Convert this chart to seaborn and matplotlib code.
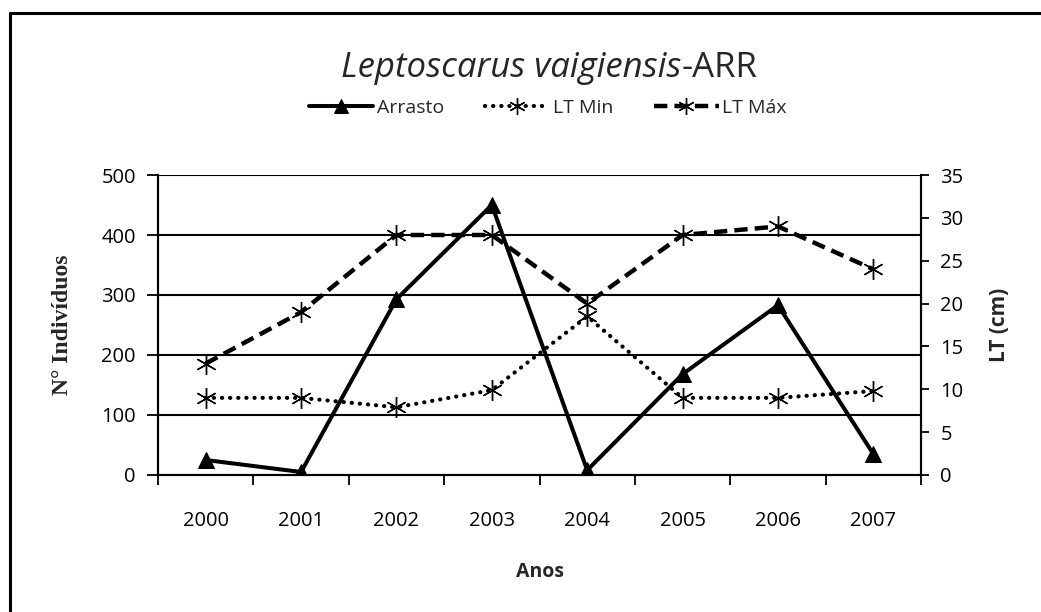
import numpy as np
import pandas as pd
import matplotlib
matplotlib.use("Agg")
import matplotlib.pyplot as plt
from matplotlib.lines import Line2D
import seaborn as sns

# values
anos    = ["2000", "2001", "2002", "2003", "2004", "2005", "2006", "2007"]
arrasto = [25, 5, 293, 450, 8, 168, 283, 35]
lt_min  = [9, 9, 7.9, 9.9, 18.5, 9, 9, 9.8]
lt_max  = [13, 19, 28, 28, 20, 28, 29, 24]

sns.set_theme(style="white")
plt.rcParams["font.family"] = ["Open Sans", "DejaVu Sans"]

df = pd.DataFrame({"Anos": anos, "Arrasto": arrasto, "LT Min": lt_min, "LT Max": lt_max})

W, H = 1041, 612
fig = plt.figure(figsize=(W / 100, H / 100), dpi=100)
fig.patch.set_facecolor("white")
ax = fig.add_axes([158 / W, 1 - 475 / H, (921 - 158) / W, 300 / H])
ax2 = ax.twinx()

star = (6, 2, 0)
sns.lineplot(data=df, x="Anos", y="Arrasto", ax=ax, color="black", linewidth=2.9,
             marker="^", markersize=12, markeredgecolor="black", sort=False,
             label="Arrasto", legend=False, zorder=5)
sns.lineplot(data=df, x="Anos", y="LT Min", ax=ax2, color="black", linewidth=3,
             linestyle=(0, (0.05, 1.9)), dash_capstyle="round", marker=star, markersize=15,
             markeredgewidth=1.0, markeredgecolor="black", sort=False,
             label="LT Min", legend=False)
sns.lineplot(data=df, x="Anos", y="LT Max", ax=ax2, color="black", linewidth=3.2,
             linestyle=(0, (3.0, 1.6)), marker=star, markersize=15,
             markeredgewidth=1.0, markeredgecolor="black", sort=False,
             label="LT Máx", legend=False)

ax.set_xlim(-0.5, 7.5)
ax.set_ylim(0, 500)
ax2.set_ylim(0, 35)
ax.set_yticks(np.arange(0, 501, 100))
ax2.set_yticks(np.arange(0, 36, 5))

# gridlines on the left axis
for v in np.arange(100, 501, 100):
    ax.axhline(v, color="black", linewidth=1.5, zorder=0)

# x ticks between categories, labels at the centres
ax.set_xticks(np.arange(-0.5, 8, 1))
ax.set_xticklabels([])
ax.set_xticks(np.arange(len(anos)), minor=True)
ax.set_xticklabels(anos, minor=True)
ax.tick_params(axis="x", which="major", direction="out", length=7, width=1.3, color="black", bottom=True)
ax.tick_params(axis="x", which="minor", length=0, pad=26, labelsize=14.5, labelcolor="black")
ax.tick_params(axis="y", direction="out", length=8, width=1.3, color="black", left=True,
               labelsize=14.5, labelcolor="black", pad=8)
ax2.tick_params(axis="y", direction="out", length=6, width=1.3, color="black", right=True,
                labelsize=14.5, labelcolor="black", pad=8)

for a in (ax, ax2):
    a.set_facecolor("none")
    a.spines["top"].set_visible(False)
    for s in ("left", "right", "bottom"):
        a.spines[s].set_color("black")
        a.spines[s].set_linewidth(1.5)

ax.set_xlabel("Anos", fontsize=14, fontweight="bold", labelpad=22)
ax.set_ylabel("N° Indivíduos", fontsize=17, fontweight="bold",
              family=["Liberation Serif", "DejaVu Serif"], labelpad=20)
ax2.set_ylabel("LT (cm)", fontsize=15, fontweight="bold", labelpad=18)

# title: italic species name followed by upright "-ARR", centred as one line
ty = 1 - 68 / H
t1 = fig.text(0, ty, "Leptoscarus vaigiensis", fontsize=25, style="italic", ha="left", va="center")
t2 = fig.text(0, ty, "-ARR", fontsize=25, ha="left", va="center")
r = fig.canvas.get_renderer()
w1 = t1.get_window_extent(r).width / W
w2 = t2.get_window_extent(r).width / W
x0 = 549 / W - (w1 + w2) / 2
t1.set_x(x0)
t2.set_x(x0 + w1)

h1, l1 = ax.get_legend_handles_labels()
h2, l2 = ax2.get_legend_handles_labels()
fig.legend(h1 + h2, l1 + l2, loc="center", bbox_to_anchor=(548 / W, 1 - 108 / H), ncol=3,
           frameon=False, fontsize=14, handlelength=3.3, columnspacing=2.1,
           handletextpad=0.2, markerscale=0.8)

# outer frame (left and top edges visible in the scan)
fig.add_artist(Line2D([10 / W, 10 / W], [0, 1 - 13 / H], transform=fig.transFigure,
                      color="black", linewidth=2.2))
fig.add_artist(Line2D([10 / W, 1], [1 - 13 / H, 1 - 13 / H], transform=fig.transFigure,
                      color="black", linewidth=2.2))

fig.savefig("out.png", dpi=100, facecolor="white")
